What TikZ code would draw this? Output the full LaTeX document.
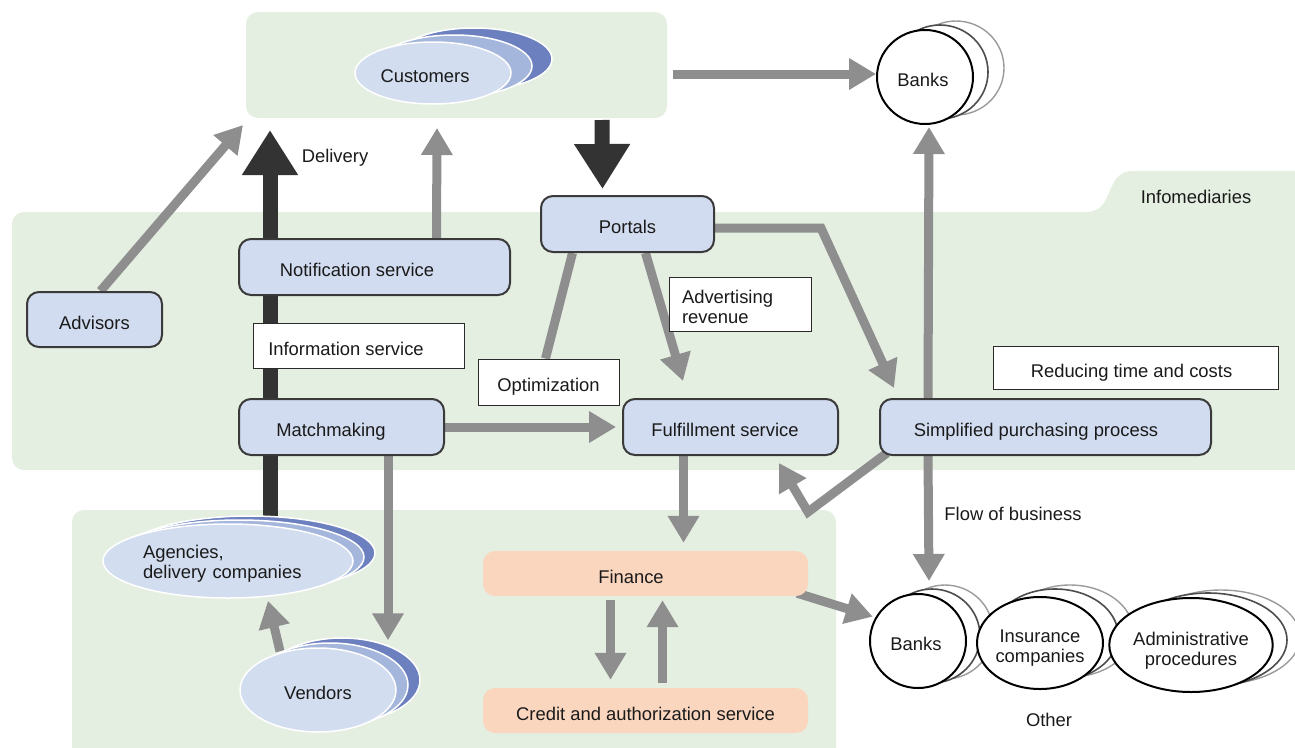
\documentclass[tikz,border=0pt]{standalone}
\usepackage{fontspec}
\setmainfont{Liberation Sans}
\usetikzlibrary{arrows.meta,calc,shapes.geometric}
\pgfdeclarelayer{back}
\pgfdeclarelayer{links}
\pgfsetlayers{back,links,main}

\definecolor{regiongreen}{HTML}{E4EFE2}
\definecolor{boxblue}{HTML}{D2DCF0}
\definecolor{edge}{HTML}{3A3A3A}
\definecolor{notegray}{HTML}{2A2A2A}
\definecolor{peach}{HTML}{FAD6BF}
\definecolor{arrowgray}{HTML}{8E8E8E}
\definecolor{arrowdark}{HTML}{333333}
\definecolor{layerfrontc}{HTML}{D3DDF0}
\definecolor{layermidc}{HTML}{A5B6DC}
\definecolor{layerbackc}{HTML}{6C80BF}
\definecolor{ringmidc}{HTML}{4D4D4D}
\definecolor{ringbackc}{HTML}{9B9B9B}
\definecolor{txt}{HTML}{1A1A1A}

\begin{document}
\begin{tikzpicture}[x=1pt,y=-1pt,
  font=\fontsize{18.4}{19.5}\selectfont, text=txt,
  oneline/.style={text height=19pt, text depth=0pt},
  procbox/.style={draw=edge, line width=2pt, fill=boxblue, rounded corners=12pt,
    minimum height=56pt, inner sep=0pt, oneline},
  notebox/.style={draw=notegray, line width=1pt, fill=white, inner sep=0pt, minimum height=45pt},
  finbox/.style={fill=peach, rounded corners=12pt, minimum width=325pt, minimum height=45pt,
    inner sep=0pt, oneline},
  region/.style={fill=regiongreen, rounded corners=12pt, inner sep=0pt},
  garrow/.style={draw=arrowgray, line width=9pt, -{Triangle[length=27pt,width=30pt]}},
  darrow/.style={draw=arrowdark, line width=15pt, -{Triangle[length=45pt,width=53pt]}},
  gline/.style={draw=arrowgray, line width=9pt},
  stackfront/.style={ellipse, fill=layerfrontc, draw=white, line width=1.5pt, inner sep=0pt},
  stackmid/.style={fill=layermidc, draw=white, line width=1.5pt},
  stackback/.style={fill=layerbackc, draw=white, line width=1.5pt},
  orgring/.style={ellipse, fill=white, draw=black, line width=2pt, inner sep=0pt, align=center},
  ringmid/.style={fill=white, draw=ringmidc, line width=1.6pt},
  ringback/.style={fill=white, draw=ringbackc, line width=1.4pt},
]
\useasboundingbox (0,0) rectangle (1295,747);

% ---------- shaded areas ----------
\begin{pgfonlayer}{back}
  \begin{scope}
    \clip (0,0) rectangle (1295,747);
    \fill[regiongreen, rounded corners=12pt]
      (12,212) -- (1100,212) -- (1119,171) -- (1320,171) -- (1320,470) -- (12,470) -- cycle;
    \node[region, minimum width=764pt, minimum height=260pt] (lower) at (454,640) {};
  \end{scope}
  \node[region, minimum width=421pt, minimum height=106pt] (upper) at (456.5,65) {};
\end{pgfonlayer}

% ---------- customers ----------
\path[stackback] (474,59) ellipse [x radius=78pt, y radius=31pt];
\path[stackmid] (454,66) ellipse [x radius=78pt, y radius=31pt];
\node[stackfront, oneline, minimum width=156pt, minimum height=62pt] (cust) at (433,73) {Customers\kern16pt};

% ---------- process boxes ----------
\node[procbox, minimum width=173pt] (portals) at (627.5,224) {Portals};
\node[procbox, minimum width=271pt] (notif) at (374.5,267) {Notification service\kern35pt};
\node[procbox, minimum width=135pt, minimum height=55pt] (adv) at (94.5,319.5) {Advisors};
\node[procbox, minimum width=205pt] (match) at (341.5,427) {Matchmaking\kern21pt};
\node[procbox, minimum width=215pt] (fulfil) at (730.5,427) {Fulfillment service\kern11pt};
\node[procbox, minimum width=331pt] (simp) at (1045.5,427) {Simplified purchasing process\kern19pt};

% ---------- annotations ----------
\node[notebox, oneline, minimum width=211pt] (info) at (358.5,345.5) {Information service\kern25pt};
\node[notebox, oneline, minimum width=141pt, minimum height=46pt] (optim) at (548.5,382) {Optimization};
\node[notebox, minimum height=54pt, inner xsep=13pt, text width=116pt, align=left]
  (adrev) at (740,304) {\rule{0pt}{19pt}Advertising\\revenue};
\node[notebox, oneline, minimum width=285pt, minimum height=43pt] (reduce) at (1135.5,367.5) {Reducing time and costs\kern8pt};

% ---------- finance ----------
\node[finbox] (fin) at (645.5,573.5) {Finance\kern29pt};
\node[finbox] (credit) at (645.5,710.5) {Credit and authorization service};

% ---------- agencies and vendors ----------
\path[stackback] (250,553) ellipse [x radius=125pt, y radius=37pt];
\path[stackmid] (239,557) ellipse [x radius=125pt, y radius=37pt];
\node[stackfront, minimum width=250pt, minimum height=74pt, text width=170pt, align=left]
  (agen) at (228,561) {\rule{0pt}{19pt}Agencies,\\delivery companies};

\path[stackback] (342,680) ellipse [x radius=78pt, y radius=42pt];
\path[stackmid] (330,685) ellipse [x radius=78pt, y radius=42pt];
\node[stackfront, oneline, minimum width=156pt, minimum height=84pt] (vend) at (318,690) {Vendors};

% ---------- banks (top) ----------
\path[ringback] (956,68) ellipse [x radius=48pt, y radius=47pt];
\path[ringmid] (940,72) ellipse [x radius=48pt, y radius=47pt];
\node[orgring, text height=18pt, text depth=0pt, minimum width=96pt, minimum height=94pt]
  (banks) at (925,77) {Banks\kern4pt};

% ---------- other parties ----------
\path[ringback] (945,632) ellipse [x radius=48pt, y radius=47pt];
\path[ringmid] (932,636) ellipse [x radius=48pt, y radius=47pt];
\node[orgring, text height=18pt, text depth=0pt, minimum width=96pt, minimum height=94pt]
  (bank2) at (918,641) {Banks\kern4pt};

\path[ringback] (1070,631) ellipse [x radius=63pt, y radius=46pt];
\path[ringmid] (1055,635) ellipse [x radius=63pt, y radius=46pt];
\node[orgring, minimum width=126pt, minimum height=92pt] (insur) at (1040,643)
  {\rule{0pt}{23pt}Insurance\\companies};

\path[ringback] (1221,637) ellipse [x radius=79pt, y radius=47pt];
\path[ringmid] (1208,640) ellipse [x radius=79pt, y radius=47pt];
\node[orgring, minimum width=158pt, minimum height=94pt] (admin) at (1191,645)
  {\rule{0pt}{25pt}Administrative\\procedures};

% ---------- plain labels ----------
\node (deliv) at (335,158) {Delivery};
\node (infomed) at (1196,197) {Infomediaries};
\node (flow) at (1013,514) {Flow of business};
\node (other) at (1049,720) {Other};

% ---------- connectors ----------
\begin{pgfonlayer}{links}
  \coordinate (advtip) at (243,125);
  \coordinate (notiftip) at (437,128);
  \coordinate (delivtip) at (270,130);
  \coordinate (portalin) at (602,120);
  \coordinate (bend) at (808,512);
  \coordinate (mvtop) at ([xshift=-57pt]match.south east);

  \draw[garrow] ($(upper.east |- banks)+(6,-3)$) -- ([yshift=3pt]banks.west);
  \draw[darrow] (portalin) -- ([xshift=-25pt,yshift=6pt]portals.north);
  \draw[darrow] ([xshift=42pt,yshift=-15pt]agen.north) -- (delivtip);
  \draw[garrow] ([xshift=6pt]adv.north) -- (advtip);
  \draw[garrow] ([xshift=62pt]notif.north) -- (notiftip);
  \draw[garrow] ([xshift=49pt]simp.north west) -- ([xshift=4pt,yshift=-2pt]banks.south);
  \draw[garrow] ([xshift=49pt]simp.south west) -- ([xshift=11pt,yshift=12pt]bank2.north);
  \draw[garrow] ([yshift=-4pt]portals.east) -- ++(106,0) -- ([xshift=15pt,yshift=10pt]simp.north west);
  \draw[garrow] ([xshift=18pt]portals.south) -- ([xshift=61pt,yshift=17pt]fulfil.north west);
  \draw[gline] ([xshift=-55pt]portals.south) -- ([xshift=-3pt]optim.north);
  \draw[garrow] (match.east) -- ([xshift=-6pt]fulfil.west);
  \draw[garrow] (mvtop) -- ($(mvtop |- vend.north)+(0,-7)$);
  \draw[garrow] ([xshift=-47pt]fulfil.south) -- ([xshift=38pt,yshift=8pt]fin.north);
  \draw[garrow] ([xshift=8pt,yshift=3pt]simp.south west) -- (bend)
    -- ([xshift=-60pt,yshift=-7pt]fulfil.south east);
  \draw[garrow] ([xshift=-35pt,yshift=-4pt]fin.south) -- ([xshift=-35pt,yshift=8pt]credit.north);
  \draw[garrow] ([xshift=17pt,yshift=5pt]credit.north) -- ([xshift=17pt,yshift=-4pt]fin.south);
  \draw[garrow] ([xshift=-11pt,yshift=3pt]fin.south east) -- ([xshift=-3pt]bank2.150);
  \draw[garrow] ([xshift=-38pt,yshift=-4pt]vend.north) -- ([xshift=40pt,yshift=-2pt]agen.south);
\end{pgfonlayer}
\end{tikzpicture}
\end{document}
